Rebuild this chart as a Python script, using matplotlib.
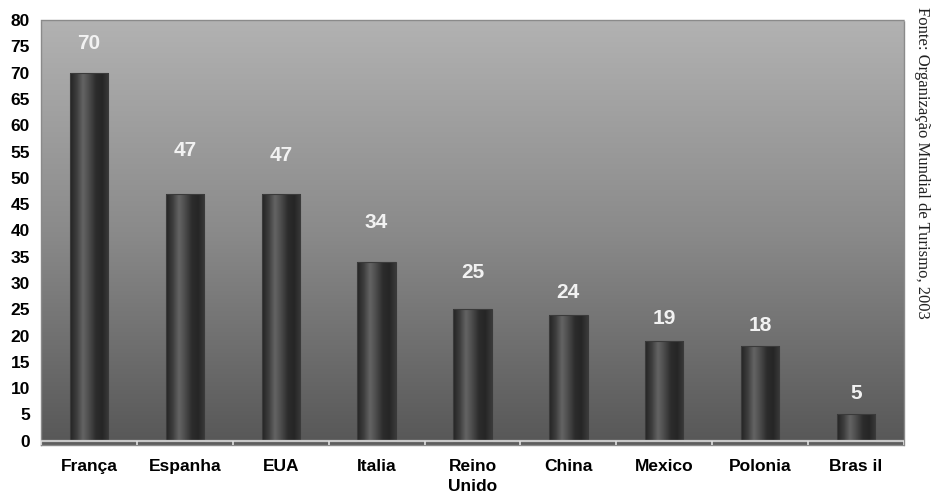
import numpy as np
import matplotlib.pyplot as plt
from matplotlib.colors import LinearSegmentedColormap

paises = ['França', 'Espanha', 'EUA', 'Italia', 'Reino\nUnido', 'China', 'Mexico', 'Polonia', 'Bras il']
turistas = [70, 47, 47, 34, 25, 24, 19, 18, 5]
y_ticks = list(range(0, 81, 5))
fonte = 'Fonte: Organização Mundial de Turismo, 2003'

# label offsets above each bar (data units)
label_gap = [5.6, 8.2, 7.3, 7.5, 7.0, 4.2, 4.2, 3.9, 4.0]

fig = plt.figure(figsize=(9.38, 4.93), dpi=100)
ax = fig.add_axes([0.0437, 0.0974, 0.92, 0.862])

x = np.arange(len(paises))
ymin = -0.8
ax.set_xlim(-0.5, len(paises) - 0.5)
ax.set_ylim(ymin, 80)

# vertical grey gradient for the plot area
bg = LinearSegmentedColormap.from_list('bg', ['#575757', '#8a8a8a', '#b2b2b2'])
grad = np.linspace(0, 1, 256).reshape(-1, 1)
ax.imshow(grad, cmap=bg, origin='lower', aspect='auto',
          extent=(-0.5, len(paises) - 0.5, ymin, 80), zorder=0)

# floor strip under the bars
ax.axhspan(ymin, 0, color='#5e5e5e', zorder=1)
ax.axhline(0, color='#c8c8c8', lw=1.6, zorder=4)
ax.vlines(np.arange(len(paises) + 1) - 0.5, ymin, 0, color='#e0e0e0', lw=1.2, zorder=4)

# cylinder shading across each bar
cyl = LinearSegmentedColormap.from_list(
    'cyl', ['#242424', '#3c3c3c', '#646464', '#4a4a4a', '#2c2c2c', '#262626', '#3a3a3a'])
shade = np.linspace(0, 1, 256).reshape(1, -1)
bars = ax.bar(x, turistas, width=0.40, color='none', edgecolor='#3a3a3a', lw=0.8, zorder=3)
for b in bars:
    im = ax.imshow(shade, cmap=cyl, aspect='auto', zorder=2,
                   extent=(b.get_x(), b.get_x() + b.get_width(), 0, b.get_height()))
    im.set_clip_path(b)

for xi, v, g in zip(x, turistas, label_gap):
    ax.text(xi, v + g, str(v), ha='center', va='center', color='#f2f2f2',
            fontsize=15, fontweight='bold', family='Liberation Sans', zorder=5)

ax.set_yticks(y_ticks)
ax.set_yticklabels([str(t) for t in y_ticks], fontsize=12.5, fontweight='bold',
                   family='Liberation Sans')
ax.set_xticks(x)
ax.set_xticklabels(paises, fontsize=12.5, fontweight='bold', family='Liberation Sans',
                   linespacing=1.4)
ax.tick_params(axis='both', length=0)
ax.tick_params(axis='y', pad=8)
ax.tick_params(axis='x', pad=10)

for s in ax.spines.values():
    s.set_linestyle((0, (1, 1)))
    s.set_color('#8a8a8a')
    s.set_linewidth(1.0)

fig.text(0.983, 0.985, fonte, rotation=-90, ha='center', va='top',
         family='Liberation Serif', fontsize=12, color='#222222')

fig.savefig('out.png', dpi=100)
